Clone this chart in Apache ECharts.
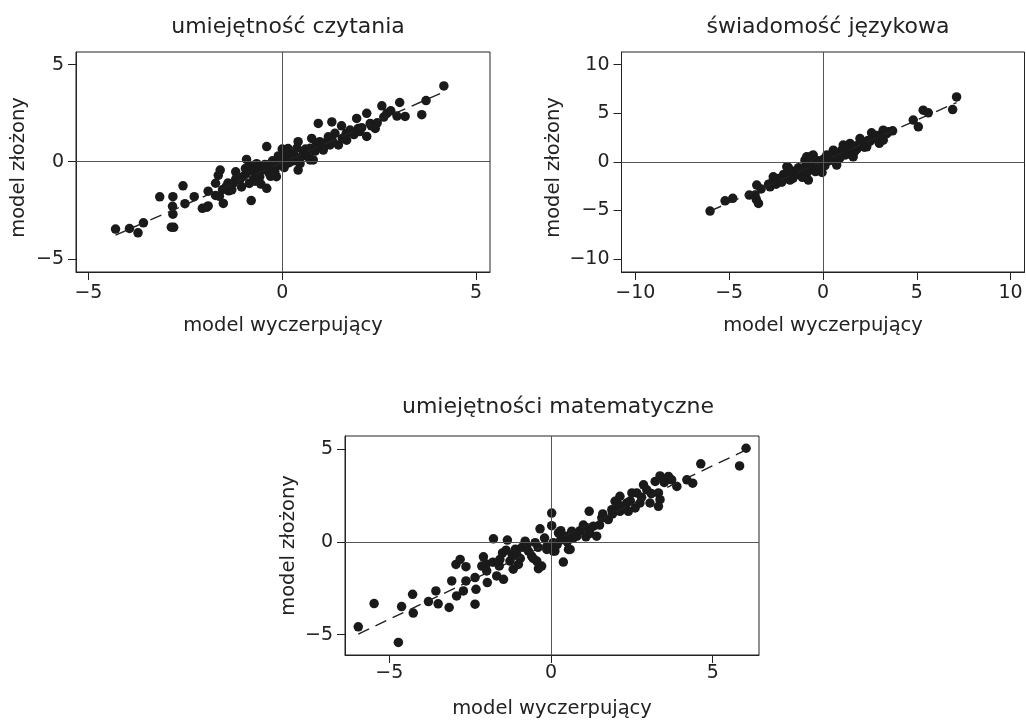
<!DOCTYPE html>
<html>
<head>
<meta charset="utf-8">
<script src="https://cdn.jsdelivr.net/npm/echarts@6/dist/echarts.min.js"></script>
<style>
html,body{margin:0;padding:0;background:#fff;}
#chart{width:1026px;height:720px;}
</style>
</head>
<body>
<div id="chart"></div>
<script>
// ---------- DATA ----------
const titles = ['umiejętność czytania', 'świadomość językowa', 'umiejętności matematyczne'];
const xName = 'model wyczerpujący';
const yName = 'model złożony';

const ticksReadX = [-5, 0, 5];
const ticksReadY = [-5, 0, 5];
const ticksLangX = [-10, -5, 0, 5, 10];
const ticksLangY = [-10, -5, 0, 5, 10];
const ticksMathX = [-5, 0, 5];
const ticksMathY = [-5, 0, 5];

const readPoints = [
[-4.30,-3.47],[-3.94,-3.44],[-3.72,-3.66],[-3.58,-3.15],
[-3.16,-1.81],[-2.82,-1.80],[-2.56,-1.24],[-2.83,-2.30],[-2.82,-2.70],[-2.86,-3.37],[-2.80,-3.38],
[-2.51,-2.16],[-2.27,-1.80],[-2.06,-2.40],[-1.95,-2.35],[-1.91,-2.28],[-1.91,-1.52],[-1.72,-1.11],
[-1.60,-0.43],[-1.65,-0.70],[-1.52,-2.15],[-1.62,-1.78],[-1.54,-1.44],[-1.72,-1.74],[-1.38,-1.50],
[-1.45,-1.30],[-1.40,-1.10],[-1.20,-0.90],
[-1.30,-1.45],[-1.20,-0.52],[-1.27,-1.12],[-1.10,-0.95],[-1.05,-1.30],[-1.00,-0.75],[-0.95,-0.35],
[-0.92,0.12],[-0.92,-0.60],[-0.90,-0.50],[-0.85,-1.12],[-0.85,-0.20],[-0.80,-0.30],[-0.80,-2.00],[-0.78,-0.45],[-0.75,-0.93],
[-0.70,-0.60],[-0.70,-1.00],[-0.66,-0.10],[-0.65,-0.75],[-0.62,-0.35],[-0.60,-0.55],[-0.58,-0.78],[-0.55,-1.15],
[-0.55,-0.25],[-0.50,-0.40],[-0.45,-0.15],[-0.40,-1.37],[-0.40,0.78],[-0.40,-0.26],[-0.35,-0.55],[-0.35,-0.35],[-0.30,-0.75],
[-0.30,-0.10],[-0.25,0.05],[-0.22,-0.35],[-0.20,-0.10],[-0.19,-0.52],[-0.15,-0.77],[-0.12,-0.20],[-0.10,0.30],
[-0.06,-0.08],[-0.02,0.10],[0.00,0.00],[0.00,0.65],[0.05,-0.30],[0.10,0.20],[0.10,0.45],[0.15,0.68],[0.18,-0.05],
[0.20,0.26],[0.25,0.40],[0.30,0.05],[0.30,0.35],[0.38,0.70],[0.41,1.03],[0.41,-0.43],[0.46,-0.10],[0.50,0.26],
[0.55,0.50],[0.60,0.65],[0.63,0.43],[0.70,0.18],[0.72,0.09],[0.72,0.69],[0.76,1.20],[0.80,0.09],[0.85,0.55],[0.88,0.85],
[0.93,1.97],[0.97,1.03],[1.00,0.75],[1.06,0.60],[1.10,0.95],[1.19,1.28],[1.23,0.86],[1.28,2.05],[1.30,1.05],[1.36,1.46],
[1.45,0.86],[1.53,1.85],[1.55,1.20],[1.65,1.45],[1.66,1.11],[1.75,1.63],[1.85,1.40],[1.92,2.23],[1.96,1.71],
[2.00,1.55],[2.05,1.75],[2.18,1.30],[2.18,2.49],[2.27,1.97],[2.30,1.85],[2.40,1.71],[2.45,2.00],[2.57,2.88],[2.62,2.30],
[2.70,2.49],[2.80,2.62],[2.96,2.35],[3.03,3.05],[3.17,2.33],[3.60,2.42],[3.71,3.15],[4.17,3.90]
];
const readFit = [[-4.30,-3.78],[4.17,3.59]];

const langPoints = [
[-6.02,-5.07],[-5.22,-4.01],[-4.81,-3.76],[-3.93,-3.42],[-3.53,-2.39],[-3.44,-4.28],[-3.55,-3.90],
[-3.62,-3.42],[-3.30,-2.80],[-2.90,-2.30],[-2.82,-2.57],[-2.65,-1.88],[-2.65,-1.54],[-2.38,-1.71],[-2.50,-2.30],
[-2.30,-1.90],[-2.20,-2.10],[-2.10,-1.30],[-2.05,-1.60],[-1.93,-0.51],[-1.90,-1.50],[-1.85,-0.58],[-1.76,-1.88],
[-1.70,-1.00],[-1.60,-1.35],[-1.60,-1.70],[-1.50,-0.95],[-1.40,-1.19],[-1.30,-0.60],[-1.30,-1.30],[-1.23,-0.85],
[-1.20,-0.90],[-1.10,-1.60],[-1.05,-1.54],[-1.00,-0.70],[-0.96,0.17],[-0.90,-0.40],[-0.90,-1.20],
[-0.87,0.51],[-0.85,-1.10],[-0.78,-1.88],[-0.70,-0.30],[-0.70,-0.60],[-0.62,-0.80],[-0.60,0.60],[-0.52,0.69],
[-0.50,-0.50],[-0.45,-0.20],[-0.40,-1.00],[-0.34,-0.68],[-0.30,-0.20],[-0.25,0.10],[-0.20,-0.45],[-0.16,0.00],
[-0.10,-0.30],[-0.05,-1.10],[0.00,0.10],[0.05,0.30],[0.10,-0.40],[0.20,0.69],[0.20,0.20],[0.30,0.10],[0.35,0.45],
[0.40,0.50],[0.50,0.30],[0.55,1.20],[0.60,0.20],[0.70,0.60],[0.73,-0.34],[0.80,0.80],[0.90,0.40],[0.95,0.95],
[1.00,1.20],[1.08,1.72],[1.10,0.90],[1.20,0.70],[1.25,1.40],[1.30,1.10],[1.40,1.20],[1.44,1.89],[1.55,1.40],
[1.60,1.60],[1.61,0.51],[1.70,1.10],[1.80,1.30],[1.85,1.70],[1.97,2.40],[2.00,1.80],[2.10,1.90],[2.20,1.50],
[2.25,2.00],[2.33,1.54],[2.40,2.20],[2.50,2.10],[2.59,2.98],[2.65,2.50],[2.70,2.40],[2.85,2.70],[2.90,2.30],
[3.00,1.90],[3.10,2.80],[3.21,3.26],[3.21,2.23],[3.40,2.90],[3.50,3.10],[3.71,3.19],
[4.81,4.29],[5.08,3.60],[5.34,5.31],[5.61,5.04],[6.91,5.38],[7.12,6.68]
];
const langFit = [[-6.02,-5.07],[7.12,6.10]];

const mathPoints = [
[-5.96,-4.58],[-5.47,-3.33],[-4.72,-5.42],[-4.62,-3.49],[-4.28,-2.83],[-4.26,-3.84],[-3.79,-3.22],
[-3.56,-2.65],[-3.49,-3.34],[-3.15,-3.54],[-3.07,-2.11],[-2.92,-2.92],[-2.71,-2.65],[-2.94,-1.22],
[-2.81,-0.95],[-2.63,-1.34],[-2.63,-2.11],[-2.35,-3.36],[-2.32,-2.56],[-2.35,-1.93],[-2.09,-0.81],
[-2.14,-1.31],[-2.00,-1.20],[-1.97,-2.20],[-1.99,-1.57],[-1.80,-1.10],[-1.78,0.16],[-1.68,-1.84],[-1.60,-1.30],
[-1.58,-0.95],[-1.50,-0.60],[-1.47,-2.02],[-1.39,-0.45],[-1.35,0.09],[-1.27,-1.04],[-1.20,-0.70],[-1.17,-1.48],
[-1.10,-0.40],[-1.06,-0.68],[-1.01,-1.22],[-0.95,-0.90],[-0.90,-0.30],[-0.80,0.03],[-0.75,-0.20],[-0.70,-0.50],
[-0.60,-0.77],[-0.55,-0.90],[-0.49,-0.05],[-0.44,-1.04],[-0.40,-0.30],[-0.39,-1.45],[-0.34,0.70],[-0.29,-1.31],
[-0.20,0.20],[-0.13,-0.24],[-0.13,-0.41],[0.02,1.55],[0.02,0.87],[0.07,-0.05],[0.07,-0.50],[0.12,-0.50],[0.19,-0.15],
[0.23,0.48],[0.30,0.10],[0.30,0.60],[0.38,-1.09],[0.45,0.30],[0.50,0.00],[0.54,-0.41],[0.59,-0.41],[0.64,0.57],[0.69,0.21],
[0.80,0.30],[0.90,0.60],[1.00,0.90],[1.08,0.27],[1.10,0.75],[1.18,1.64],[1.20,0.45],[1.31,0.84],[1.41,0.30],[1.50,0.90],
[1.57,1.29],[1.60,1.50],[1.77,1.20],[1.88,1.73],[1.90,1.50],[1.98,2.18],[2.08,2.00],[2.13,1.64],[2.13,2.45],[2.20,1.85],
[2.34,2.09],[2.39,1.64],[2.45,2.20],[2.50,2.63],[2.60,1.82],[2.65,2.63],[2.75,2.09],[2.80,2.40],[2.86,3.07],[2.96,2.80],
[3.06,2.09],[3.10,2.60],[3.22,3.25],[3.32,2.63],[3.37,2.27],[3.32,1.91],[3.37,3.55],[3.50,3.20],[3.63,3.52],[3.73,3.34],
[3.89,2.98],[4.20,3.34],[4.38,3.16],[4.63,4.20],[5.83,4.09],[6.03,5.04]
];
const mathFit = [[-5.96,-4.97],[6.03,4.95]];

// ---------- STYLE ----------
const FONT = 'DejaVu Sans';
const INK = '#222222';
const DOT = '#1a1a1a';
const fmt = v => (v < 0 ? '\u2212' + Math.abs(v) : String(v));

function xAxisDef(gi, min, max, ticks, labelMargin) {
  return {
    type: 'value', gridIndex: gi, min: min, max: max,
    name: xName, nameLocation: 'middle', nameGap: 44,
    nameTextStyle: {fontFamily: FONT, fontSize: 19.5, color: INK},
    axisLine: {show: true, onZero: false, lineStyle: {color: INK, width: 1}},
    axisTick: {show: true, inside: false, length: 8, customValues: ticks, lineStyle: {color: INK, width: 1}},
    axisLabel: {customValues: ticks, formatter: fmt, margin: labelMargin, fontFamily: FONT, fontSize: 19, color: INK},
    splitLine: {show: false}
  };
}
function yAxisDef(gi, min, max, ticks, nameGap, pad) {
  return {
    type: 'value', gridIndex: gi, min: min, max: max,
    name: yName, nameLocation: 'middle', nameGap: nameGap, nameRotate: 90,
    nameTextStyle: {fontFamily: FONT, fontSize: 19.5, color: INK, padding: pad},
    axisLine: {show: true, onZero: false, lineStyle: {color: INK, width: 1}},
    axisTick: {show: true, inside: false, length: 8, customValues: ticks, lineStyle: {color: INK, width: 1}},
    axisLabel: {customValues: ticks, formatter: fmt, margin: 12, fontFamily: FONT, fontSize: 19, color: INK},
    splitLine: {show: false}
  };
}
function scatterDef(gi, pts) {
  return {
    type: 'scatter', xAxisIndex: gi, yAxisIndex: gi, data: pts,
    symbol: 'circle', symbolSize: 9.5, itemStyle: {color: DOT, opacity: 1},
    silent: true, z: 3,
    markLine: {
      silent: true, symbol: ['none', 'none'], animation: false,
      label: {show: false},
      lineStyle: {color: '#555', type: 'solid', width: 1},
      data: [{xAxis: 0}, {yAxis: 0}]
    }
  };
}
function fitDef(gi, pts) {
  return {
    type: 'line', xAxisIndex: gi, yAxisIndex: gi, data: pts,
    symbol: 'none', silent: true, z: 4,
    lineStyle: {color: INK, width: 1.4, type: [12, 7]}
  };
}

const gridStyle = {show: true, borderColor: INK, borderWidth: 1, backgroundColor: 'transparent', containLabel: false};

const option = {
  animation: false,
  backgroundColor: '#ffffff',
  textStyle: {fontFamily: FONT},
  title: [
    {text: titles[0], left: 283, top: 11, textAlign: 'center', textStyle: {fontFamily: FONT, fontSize: 22, fontWeight: 'normal', color: INK}},
    {text: titles[1], left: 823, top: 11, textAlign: 'center', textStyle: {fontFamily: FONT, fontSize: 22, fontWeight: 'normal', color: INK}},
    {text: titles[2], left: 553, top: 391, textAlign: 'center', textStyle: {fontFamily: FONT, fontSize: 22, fontWeight: 'normal', color: INK}}
  ],
  grid: [
    Object.assign({left: 76, top: 52, width: 414, height: 220}, gridStyle),
    Object.assign({left: 621.5, top: 52, width: 403, height: 220}, gridStyle),
    Object.assign({left: 345, top: 436, width: 414, height: 220}, gridStyle)
  ],
  xAxis: [
    xAxisDef(0, -5.32, 5.36, ticksReadX, 12),
    xAxisDef(1, -10.74, 10.74, ticksLangX, 12),
    xAxisDef(2, -6.37, 6.43, ticksMathX, 9)
  ],
  yAxis: [
    yAxisDef(0, -5.68, 5.65, ticksReadY, 47, [0, 11, 0, 0]),
    yAxisDef(1, -11.34, 11.3, ticksLangY, 58, [0, 11, 0, 0]),
    yAxisDef(2, -6.10, 5.70, ticksMathY, 46, [0, 0, 0, 0])
  ],
  series: [
    scatterDef(0, readPoints), fitDef(0, readFit),
    scatterDef(1, langPoints), fitDef(1, langFit),
    scatterDef(2, mathPoints), fitDef(2, mathFit)
  ]
};

const chart = echarts.init(document.getElementById('chart'), null, {renderer: 'canvas'});
chart.setOption(option);
</script>
</body>
</html>
